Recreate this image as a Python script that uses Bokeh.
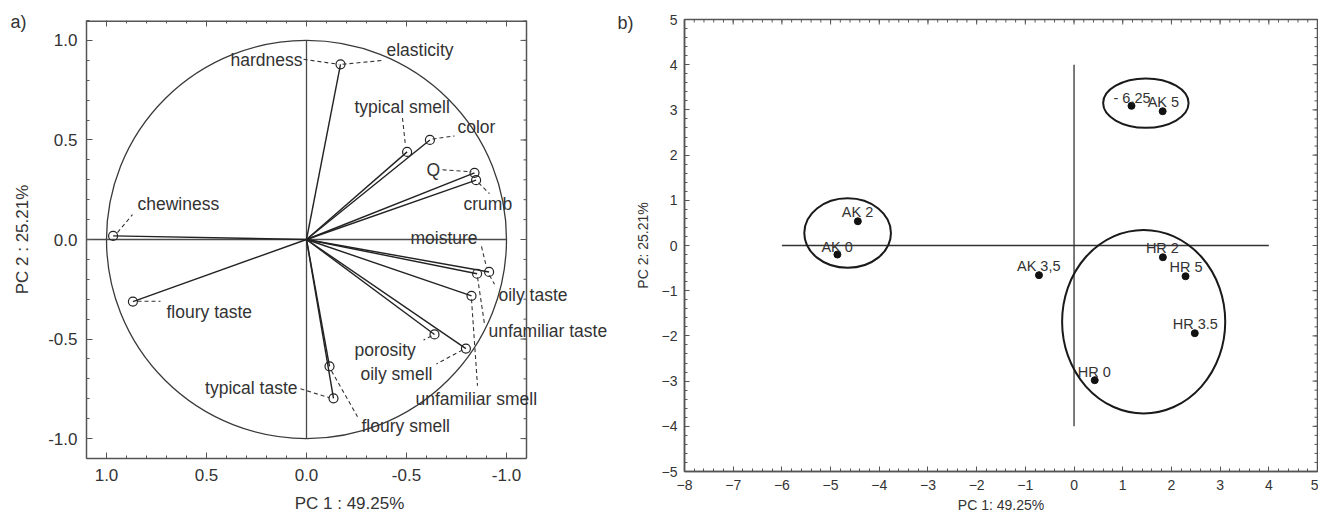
import numpy as np
from bokeh.plotting import figure
from bokeh.layouts import row
from bokeh.models import Range1d, FixedTicker, ColumnDataSource, NumeralTickFormatter
from bokeh.embed import file_html
from bokeh.resources import INLINE
from bokeh.core.properties import value

# ---------------- data: panel a) loadings ----------------
load_names = ["hardness/elasticity", "typical smell", "color", "Q", "crumb", "chewiness",
              "floury taste", "moisture/oily taste", "unfamiliar taste", "unfamiliar smell",
              "porosity", "oily smell", "floury smell", "typical taste"]
load_pc1 = [-0.17, -0.503, -0.617, -0.84, -0.848, 0.967, 0.868, -0.913, -0.853, -0.825,
            -0.64, -0.797, -0.115, -0.135]
load_pc2 = [0.88, 0.44, 0.50, 0.335, 0.298, 0.018, -0.312, -0.163, -0.172, -0.283,
            -0.477, -0.548, -0.637, -0.798]

# label texts with their placement (data coords) and leader lines
lab_text = ["hardness", "elasticity", "typical smell", "color", "Q", "crumb", "moisture",
            "oily taste", "unfamiliar taste", "porosity", "oily smell", "unfamiliar smell",
            "floury smell", "typical taste", "floury taste", "chewiness"]
lab_x = [0.02, -0.40, -0.24, -0.755, -0.60, -0.785, -0.52, -0.96, -0.91, -0.24, -0.27,
         -0.545, -0.275, 0.045, 0.70, 0.845]
lab_y = [0.90, 0.95, 0.665, 0.565, 0.35, 0.18, 0.01, -0.28, -0.46, -0.555, -0.675,
         -0.80, -0.935, -0.745, -0.365, 0.18]
lab_align = ["right", "left", "left", "left", "left", "left", "left", "left", "left", "left",
             "left", "left", "left", "right", "left", "left"]
lead_x0 = [0.015, -0.18, -0.48, -0.63, -0.68, -0.86, -0.875, -0.915, -0.855, -0.625,
           -0.78, -0.825, -0.125, 0.03, 0.845, 0.945]
lead_y0 = [0.905, 0.88, 0.61, 0.505, 0.35, 0.285, -0.035, -0.18, -0.19, -0.485,
           -0.555, -0.30, -0.66, -0.75, -0.31, 0.035]
lead_x1 = [-0.16, -0.385, -0.495, -0.74, -0.825, -0.915, -0.90, -0.94, -0.89, -0.585,
           -0.65, -0.855, -0.255, -0.115, 0.73, 0.87]
lead_y1 = [0.88, 0.90, 0.47, 0.52, 0.34, 0.23, -0.14, -0.225, -0.425, -0.505,
           -0.625, -0.735, -0.89, -0.795, -0.31, 0.125]

# ---------------- data: panel b) scores ----------------
sample_names = ["AK 0", "AK 2", "AK 3,5", "AK 5", "- 6,25", "HR 0", "HR 2", "HR 3.5", "HR 5"]
score_pc1 = [-4.86, -4.44, -0.72, 1.82, 1.18, 0.425, 1.825, 2.48, 2.29]
score_pc2 = [-0.20, 0.536, -0.656, 2.97, 3.09, -2.98, -0.26, -1.94, -0.68]
label_dx = [-16, -16, -22, -15, -18, -17, -17, -22, -16]
label_dy = [-8, -9, -9, -9, -8, -8, -9, -9, -9]

# group ellipses
ell_x = [-4.65, 1.475, 1.43]
ell_y = [0.276, 3.15, -1.685]
ell_w = [1.78, 1.755, 3.35]
ell_h = [1.54, 1.09, 4.06]

# ticks
a_major = [-1.0, -0.5, 0.0, 0.5, 1.0]
a_minor = [round(v, 2) for v in np.arange(-1.1, 1.11, 0.1)]
bx_major = list(range(-8, 6))
by_major = list(range(-5, 6))
bx_minor = [round(v, 2) for v in np.arange(-8, 5.01, 0.2)]
by_minor = [round(v, 2) for v in np.arange(-5, 5.01, 0.2)]

FONT = "Liberation Sans"
TXT = "#333333"
LINE = "#3a3a3a"
FRAME = "#555555"


def style_axis(ax, fs, ticker, fmt=None, tin=6, mtin=3, standoff=8, label=None, lstand=8):
    ax.ticker = ticker
    if fmt is not None:
        ax.formatter = fmt
    ax.major_tick_in = tin
    ax.major_tick_out = 0
    ax.minor_tick_in = mtin
    ax.minor_tick_out = 0
    ax.major_tick_line_color = FRAME
    ax.minor_tick_line_color = FRAME
    ax.axis_line_color = FRAME
    ax.axis_line_width = 1.5
    ax.major_label_text_font = FONT
    ax.major_label_text_color = TXT
    ax.major_label_text_font_size = fs
    ax.major_label_standoff = standoff
    ax.axis_label = label
    ax.axis_label_text_font = FONT
    ax.axis_label_text_color = TXT
    ax.axis_label_text_font_size = fs
    ax.axis_label_text_font_style = "normal"
    ax.axis_label_standoff = lstand


def style_title(p, text, offset, standoff):
    p.title.text = text
    p.title.align = "left"
    p.title.offset = offset
    p.title.standoff = standoff
    p.title.text_font = FONT
    p.title.text_font_size = "18px"
    p.title.text_font_style = "normal"
    p.title.text_color = TXT


# ================= panel a =================
A_LEFT, A_RIGHT = 1.1, -1.1          # visible box of panel a
p1 = figure(width=612, height=515, output_backend="svg", toolbar_location=None,
            x_range=Range1d(1.1, -1.53), y_range=Range1d(-1.1, 1.1),
            min_border_left=86, min_border_right=0, min_border_top=20, min_border_bottom=56,
            frame_align=False)
p1.xgrid.visible = False
p1.ygrid.visible = False
p1.outline_line_color = None
style_title(p1, "a)", -76, -22)

tk_a = FixedTicker(ticks=a_major, minor_ticks=a_minor)
fmt_a = NumeralTickFormatter(format="0.0")
style_axis(p1.xaxis[0], "17px", tk_a, fmt_a, standoff=10, label="PC 1 : 49.25%", lstand=10)
p1.xaxis[0].bounds = (A_RIGHT, A_LEFT)
style_axis(p1.yaxis[0], "17px", tk_a, fmt_a, standoff=9, label="PC 2 : 25.21%", lstand=13)

# top and right edges of the box, with inward ticks
p1.segment(x0=[A_LEFT, A_RIGHT], y0=[1.1, -1.1], x1=[A_RIGHT, A_RIGHT], y1=[1.1, 1.1],
           line_color=FRAME, line_width=[3, 1.5])
p1.segment(x0=a_major, y0=[1.1] * len(a_major), x1=a_major, y1=[1.07] * len(a_major),
           line_color=FRAME, line_width=1)
p1.segment(x0=a_minor, y0=[1.1] * len(a_minor), x1=a_minor, y1=[1.085] * len(a_minor),
           line_color=FRAME, line_width=1)
p1.segment(x0=[A_RIGHT] * len(a_major), y0=a_major, x1=[A_RIGHT + 0.03] * len(a_major), y1=a_major,
           line_color=FRAME, line_width=1)
p1.segment(x0=[A_RIGHT] * len(a_minor), y0=a_minor, x1=[A_RIGHT + 0.015] * len(a_minor), y1=a_minor,
           line_color=FRAME, line_width=1)

# unit circle and cross
p1.ellipse(x=0, y=0, width=2, height=2, fill_color=None, line_color=LINE, line_width=1.3)
p1.segment(x0=[1.1, 0], y0=[0, -1.0], x1=[-1.0, 0], y1=[0, 1.0], line_color="#4a4a4a", line_width=1.3)

src_a = ColumnDataSource(dict(x=load_pc1, y=load_pc2, name=load_names,
                              x0=[0] * len(load_pc1), y0=[0] * len(load_pc1)))
p1.segment(x0="x0", y0="y0", x1="x", y1="y", source=src_a, line_color="#222222", line_width=1.4)
p1.scatter(x="x", y="y", source=src_a, marker="circle", size=9, fill_color=None,
           line_color="#222222", line_width=1.2)

p1.segment(x0=lead_x0, y0=lead_y0, x1=lead_x1, y1=lead_y1, line_color="#333333",
           line_width=1.1, line_dash="4 3")

for al in ("left", "right"):
    idx = [i for i, a in enumerate(lab_align) if a == al]
    p1.text(x=[lab_x[i] for i in idx], y=[lab_y[i] for i in idx], text=[lab_text[i] for i in idx],
            text_align=al, text_baseline="middle", text_font=value(FONT),
            text_font_size="17.5px", text_color=TXT)

# ================= panel b =================
p2 = figure(width=706, height=515, output_backend="svg", toolbar_location=None,
            x_range=Range1d(-8, 5), y_range=Range1d(-5, 5),
            min_border_left=72, min_border_right=1, min_border_top=19, min_border_bottom=43,
            frame_align=False)
p2.xgrid.visible = False
p2.ygrid.visible = False
p2.outline_line_color = FRAME
p2.outline_line_width = 1.5
style_title(p2, "b)", -67, -26)

tk_bx = FixedTicker(ticks=bx_major, minor_ticks=bx_minor)
tk_by = FixedTicker(ticks=by_major, minor_ticks=by_minor)
style_axis(p2.xaxis[0], "14px", tk_bx, tin=5, mtin=3, standoff=8, label="PC 1: 49.25%", lstand=4)
style_axis(p2.yaxis[0], "14px", tk_by, tin=5, mtin=3, standoff=7, label="PC 2: 25.21%", lstand=8)

# mirrored inward ticks on top and right edges (half-dash clipped by the frame)
for xs, sz in ((bx_major, 10), (bx_minor, 6)):
    p2.scatter(x=xs, y=[5] * len(xs), marker="dash", size=sz, angle=np.pi / 2,
               line_color=FRAME, line_width=1)
for ys, sz in ((by_major, 10), (by_minor, 6)):
    p2.scatter(x=[5] * len(ys), y=ys, marker="dash", size=sz, line_color=FRAME, line_width=1)

p2.segment(x0=[-6, 0], y0=[0, -4], x1=[4, 0], y1=[0, 4], line_color="#333333", line_width=1.3)
p2.ellipse(x=ell_x, y=ell_y, width=ell_w, height=ell_h, fill_color=None,
           line_color="#1a1a1a", line_width=2)

src_b = ColumnDataSource(dict(x=score_pc1, y=score_pc2, name=sample_names, dx=label_dx, dy=label_dy))
p2.scatter(x="x", y="y", source=src_b, marker="circle", size=7, fill_color="#111111",
           line_color="#111111")
p2.text(x="x", y="y", text="name", source=src_b, x_offset="dx", y_offset="dy",
        text_align="left", text_baseline="middle", text_font=value(FONT),
        text_font_size="14.5px", text_color=TXT)

layout = row(p1, p2)
open("out.html", "w").write(file_html(layout, INLINE))
